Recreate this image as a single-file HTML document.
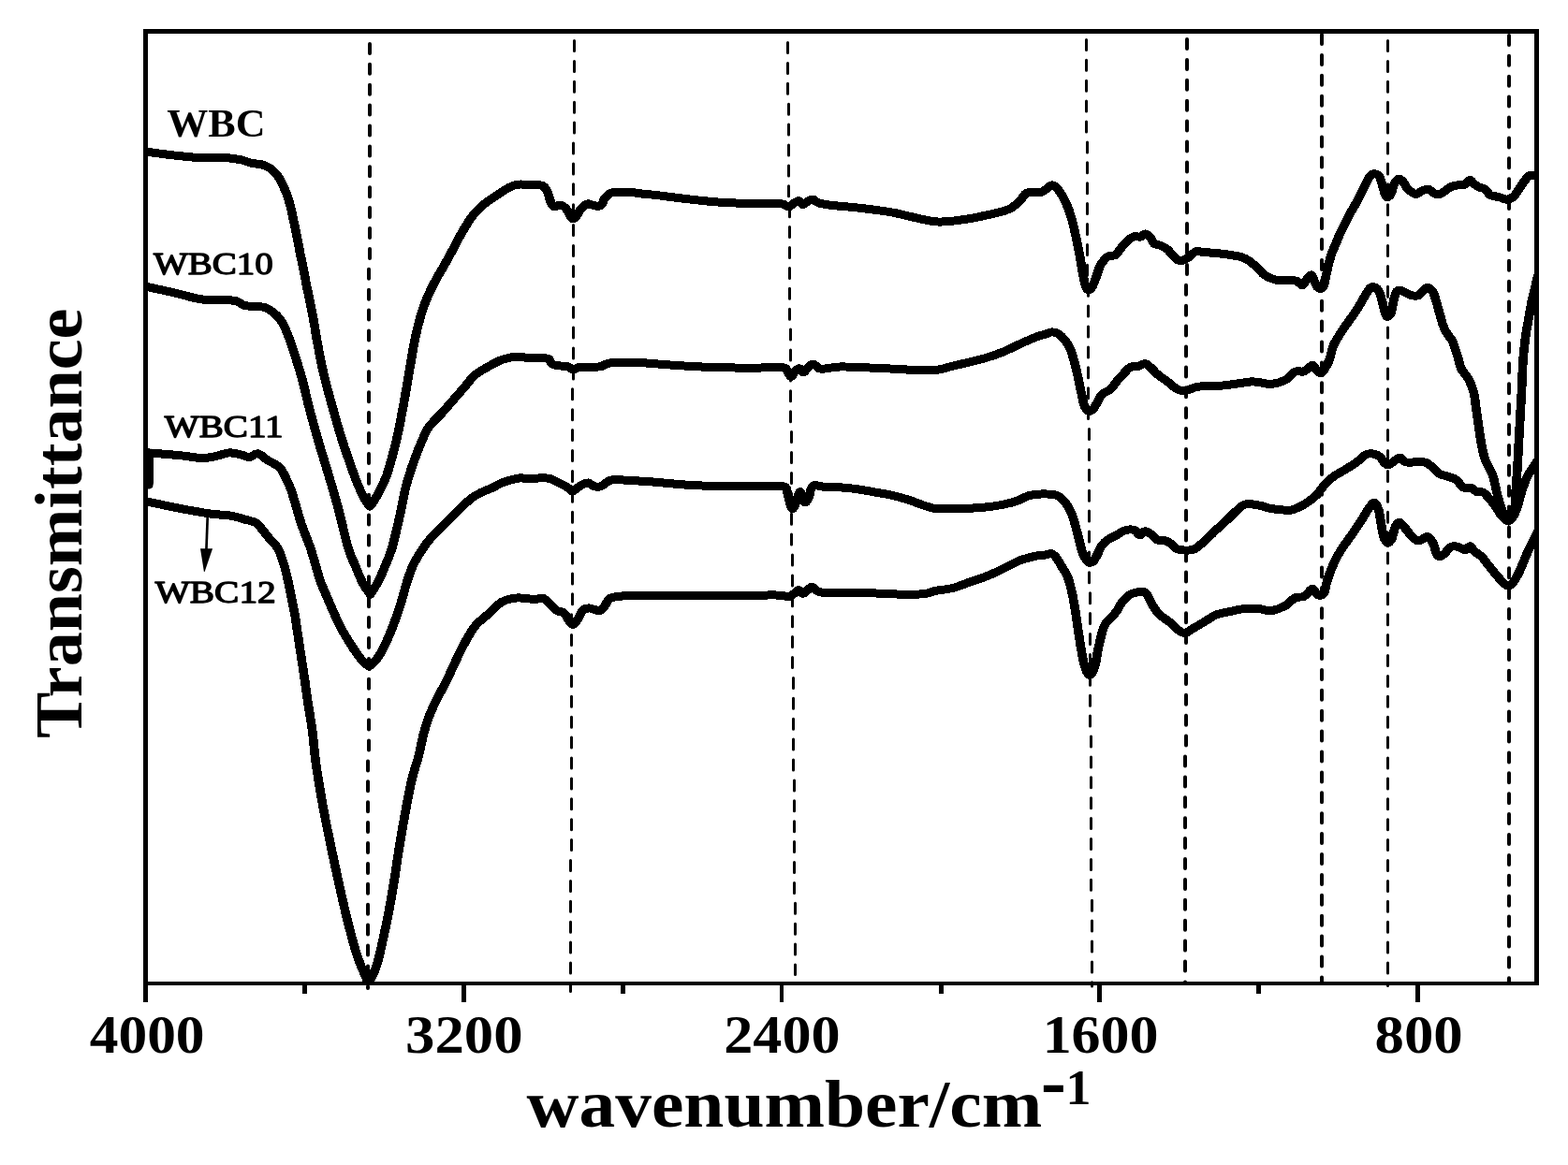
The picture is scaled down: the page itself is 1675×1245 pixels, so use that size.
<!DOCTYPE html>
<html lang="en">
<head>
<meta charset="utf-8">
<title>FTIR spectra of WBC samples</title>
<style>
html,body{margin:0;padding:0;background:#fff;}
body{width:1675px;height:1245px;overflow:hidden;}
svg{display:block;}
text{font-family:"Liberation Serif","DejaVu Serif",serif;fill:#000;}
</style>
</head>
<body>
<svg width="1675" height="1245" viewBox="0 0 1675 1245">
<rect x="0" y="0" width="1675" height="1245" fill="#fff"/>
<clipPath id="plot"><rect x="155" y="33" width="1487" height="1019"/></clipPath>
<g stroke="#000" fill="none" stroke-linecap="round">
<path stroke-width="4" d="M395.0 46.9V56.9M395.0 68.8V78.8M395.0 90.7V100.7M395.0 112.6V122.6M395.0 134.5V144.5M395.0 156.4V166.4M395.0 178.3V188.3M395.0 200.2V210.2M395.0 222.1V232.1M395.0 244.0V254.0M395.0 265.9V275.9M394.0 287.8V297.8M394.0 309.7V319.7M394.0 331.6V341.6M394.0 353.5V363.5M394.0 375.4V385.4M394.0 397.3V407.3M394.0 419.2V429.2M394.0 441.1V451.1M394.0 463.0V473.0M394.0 484.9V494.9M394.0 506.8V516.8M394.0 528.7V538.7M394.0 550.6V560.6M394.0 572.5V582.5M394.0 594.4V604.4M394.0 616.3V626.3M394.0 638.2V648.2M394.0 660.1V670.1M394.0 682.0V692.0M394.0 703.9V713.9M394.0 725.8V735.8M394.0 747.7V757.7M394.0 769.6V779.6M394.0 791.5V801.5M393.0 813.4V823.4M393.0 835.3V845.3M393.0 857.2V867.2M393.0 879.1V889.1M393.0 901.0V911.0M393.0 922.9V932.9M393.0 944.8V954.8M393.0 966.7V976.7M393.0 988.6V998.6M393.0 1010.5V1020.5M393.0 1032.4V1042.4M393.0 1054.3V1056.1"/>
<path stroke-width="3" d="M613.5 43.5V54.5M613.5 65.4V76.4M613.5 87.3V98.3M613.5 109.2V120.2M613.5 131.1V142.1M612.5 153.0V164.0M612.5 174.9V185.9M612.5 196.8V207.8M612.5 218.7V229.7M612.5 240.6V251.6M612.5 262.5V273.5M612.5 284.4V295.4M612.5 306.3V317.3M612.5 328.2V339.2M612.5 350.1V361.1M612.5 372.0V383.0M612.5 393.9V404.9M611.5 415.8V426.8M611.5 437.7V448.7M611.5 459.6V470.6M611.5 481.5V492.5M611.5 503.4V514.4M611.5 525.3V536.3M611.5 547.2V558.2M611.5 569.1V580.1M611.5 591.0V602.0M611.5 612.9V623.9M611.5 634.8V645.8M610.5 656.7V667.7M610.5 678.6V689.6M610.5 700.5V711.5M610.5 722.4V733.4M610.5 744.3V755.3M610.5 766.2V777.2M610.5 788.1V799.1M610.5 810.0V821.0M610.5 831.9V842.9M610.5 853.8V864.8M610.5 875.7V886.7M610.5 897.6V908.6M609.5 919.5V930.5M609.5 941.4V952.4M609.5 963.3V974.3M609.5 985.2V996.2M609.5 1007.1V1018.1M609.5 1029.0V1040.0M609.5 1050.9V1059.6"/>
<path stroke-width="3" d="M841.5 45.5V56.5M841.5 67.4V78.4M841.5 89.3V100.3M842.5 111.2V122.2M842.5 133.1V144.1M842.5 155.0V166.0M842.5 176.9V187.9M842.5 198.8V209.8M843.5 220.7V231.7M843.5 242.6V253.6M843.5 264.5V275.5M843.5 286.4V297.4M843.5 308.3V319.3M843.5 330.2V341.2M844.5 352.1V363.1M844.5 374.0V385.0M844.5 395.9V406.9M844.5 417.8V428.8M844.5 439.7V450.7M845.5 461.6V472.6M845.5 483.5V494.5M845.5 505.4V516.4M845.5 527.3V538.3M845.5 549.2V560.2M845.5 571.1V582.1M846.5 593.0V604.0M846.5 614.9V625.9M846.5 636.8V647.8M846.5 658.7V669.7M846.5 680.6V691.6M846.5 702.5V713.5M847.5 724.4V735.4M847.5 746.3V757.3M847.5 768.2V779.2M847.5 790.1V801.1M847.5 812.0V823.0M848.5 833.9V844.9M848.5 855.8V866.8M848.5 877.7V888.7M848.5 899.6V910.6M848.5 921.5V932.5M848.5 943.4V954.4M849.5 965.3V976.3M849.5 987.2V998.2M849.5 1009.1V1020.1M849.5 1031.0V1041.6"/>
<path stroke-width="3" d="M1160.5 42.4V53.4M1160.5 64.3V75.3M1160.5 86.2V97.2M1160.5 108.1V119.1M1160.5 130.0V141.0M1161.5 151.9V162.9M1161.5 173.8V184.8M1161.5 195.7V206.7M1161.5 217.6V228.6M1161.5 239.5V250.5M1161.5 261.4V272.4M1161.5 283.3V294.3M1162.5 305.2V316.2M1162.5 327.1V338.1M1162.5 349.0V360.0M1162.5 370.9V381.9M1162.5 392.8V403.8M1162.5 414.7V425.7M1162.5 436.6V447.6M1163.5 458.5V469.5M1163.5 480.4V491.4M1163.5 502.3V513.3M1163.5 524.2V535.2M1163.5 546.1V557.1M1163.5 568.0V579.0M1163.5 589.9V600.9M1163.5 611.8V622.8M1164.5 633.7V644.7M1164.5 655.6V666.6M1164.5 677.5V688.5M1164.5 699.4V710.4M1164.5 721.3V732.3M1164.5 743.2V754.2M1164.5 765.1V776.1M1165.5 787.0V798.0M1165.5 808.9V819.9M1165.5 830.8V841.8M1165.5 852.7V863.7M1165.5 874.6V885.6M1165.5 896.5V907.5M1165.5 918.4V929.4M1165.5 940.3V951.3M1166.5 962.2V973.2M1166.5 984.1V995.1M1166.5 1006.0V1017.0M1166.5 1027.9V1038.9M1166.5 1049.8V1054.1"/>
<path stroke-width="4" d="M1268.0 42.0V52.0M1268.0 63.9V73.9M1268.0 85.8V95.8M1268.0 107.7V117.7M1268.0 129.6V139.6M1268.0 151.5V161.5M1268.0 173.4V183.4M1268.0 195.3V205.3M1268.0 217.2V227.2M1268.0 239.1V249.1M1268.0 261.0V271.0M1268.0 282.9V292.9M1267.0 304.8V314.8M1267.0 326.7V336.7M1267.0 348.6V358.6M1267.0 370.5V380.5M1267.0 392.4V402.4M1267.0 414.3V424.3M1267.0 436.2V446.2M1267.0 458.1V468.1M1267.0 480.0V490.0M1267.0 501.9V511.9M1267.0 523.8V533.8M1267.0 545.7V555.7M1267.0 567.6V577.6M1267.0 589.5V599.5M1267.0 611.4V621.4M1267.0 633.3V643.3M1267.0 655.2V665.2M1267.0 677.1V687.1M1267.0 699.0V709.0M1267.0 720.9V730.9M1267.0 742.8V752.8M1267.0 764.7V774.7M1267.0 786.6V796.6M1266.0 808.5V818.5M1266.0 830.4V840.4M1266.0 852.3V862.3M1266.0 874.2V884.2M1266.0 896.1V906.1M1266.0 918.0V928.0M1266.0 939.9V949.9M1266.0 961.8V971.8M1266.0 983.7V993.7M1266.0 1005.6V1015.6M1266.0 1027.5V1037.5M1266.0 1049.4V1050.0"/>
<path stroke-width="4" d="M1412.0 37.0V47.0M1412.0 58.9V68.9M1412.0 80.8V90.8M1412.0 102.7V112.7M1412.0 124.6V134.6M1412.0 146.5V156.5M1412.0 168.4V178.4M1412.0 190.3V200.3M1412.0 212.2V222.2M1412.0 234.1V244.1M1412.0 256.0V266.0M1412.0 277.9V287.9M1412.0 299.8V309.8M1412.0 321.7V331.7M1412.0 343.6V353.6M1412.0 365.5V375.5M1412.0 387.4V397.4M1412.0 409.3V419.3M1412.0 431.2V441.2M1412.0 453.1V463.1M1412.0 475.0V485.0M1412.0 496.9V506.9M1412.0 518.8V528.8M1412.0 540.7V550.7M1412.0 562.6V572.6M1412.0 584.5V594.5M1412.0 606.4V616.4M1412.0 628.3V638.3M1412.0 650.2V660.2M1412.0 672.1V682.1M1412.0 694.0V704.0M1412.0 715.9V725.9M1412.0 737.8V747.8M1412.0 759.7V769.7M1412.0 781.6V791.6M1412.0 803.5V813.5M1412.0 825.4V835.4M1412.0 847.3V857.3M1412.0 869.2V879.2M1412.0 891.1V901.1M1412.0 913.0V923.0M1412.0 934.9V944.9M1412.0 956.8V966.8M1412.0 978.7V988.7M1412.0 1000.6V1010.6M1412.0 1022.5V1032.5M1412.0 1044.4V1050.0"/>
<path stroke-width="3" d="M1482.5 43.5V54.5M1482.5 65.4V76.4M1482.5 87.3V98.3M1482.5 109.2V120.2M1482.5 131.1V142.1M1482.5 153.0V164.0M1482.5 174.9V185.9M1482.5 196.8V207.8M1482.5 218.7V229.7M1482.5 240.6V251.6M1482.5 262.5V273.5M1482.5 284.4V295.4M1482.5 306.3V317.3M1482.5 328.2V339.2M1482.5 350.1V361.1M1482.5 372.0V383.0M1482.5 393.9V404.9M1482.5 415.8V426.8M1482.5 437.7V448.7M1482.5 459.6V470.6M1482.5 481.5V492.5M1482.5 503.4V514.4M1482.5 525.3V536.3M1482.5 547.2V558.2M1482.5 569.1V580.1M1482.5 591.0V602.0M1482.5 612.9V623.9M1482.5 634.8V645.8M1482.5 656.7V667.7M1482.5 678.6V689.6M1482.5 700.5V711.5M1482.5 722.4V733.4M1482.5 744.3V755.3M1482.5 766.2V777.2M1482.5 788.1V799.1M1482.5 810.0V821.0M1482.5 831.9V842.9M1482.5 853.8V864.8M1482.5 875.7V886.7M1482.5 897.6V908.6M1482.5 919.5V930.5M1482.5 941.4V952.4M1482.5 963.3V974.3M1482.5 985.2V996.2M1482.5 1007.1V1018.1M1482.5 1029.0V1040.0M1482.5 1050.9V1053.5"/>
<path stroke-width="4" d="M1612.0 37.9V47.9M1612.0 59.8V69.8M1612.0 81.7V91.7M1612.0 103.6V113.6M1612.0 125.5V135.5M1612.0 147.4V157.4M1612.0 169.3V179.3M1612.0 191.2V201.2M1612.0 213.1V223.1M1612.0 235.0V245.0M1612.0 256.9V266.9M1612.0 278.8V288.8M1612.0 300.7V310.7M1612.0 322.6V332.6M1612.0 344.5V354.5M1612.0 366.4V376.4M1612.0 388.3V398.3M1612.0 410.2V420.2M1612.0 432.1V442.1M1612.0 454.0V464.0M1612.0 475.9V485.9M1612.0 497.8V507.8M1612.0 519.7V529.7M1612.0 541.6V551.6M1612.0 563.5V573.5M1612.0 585.4V595.4M1612.0 607.3V617.3M1612.0 629.2V639.2M1612.0 651.1V661.1M1612.0 673.0V683.0M1612.0 694.9V704.9M1612.0 716.8V726.8M1612.0 738.7V748.7M1612.0 760.6V770.6M1612.0 782.5V792.5M1612.0 804.4V814.4M1612.0 826.3V836.3M1612.0 848.2V858.2M1612.0 870.1V880.1M1612.0 892.0V902.0M1612.0 913.9V923.9M1612.0 935.8V945.8M1612.0 957.7V967.7M1612.0 979.6V989.6M1612.0 1001.5V1011.5M1612.0 1023.4V1033.4M1612.0 1045.3V1050.0"/>
</g>
<g clip-path="url(#plot)"><g transform="scale(1.07 1)" stroke="#000" fill="none" stroke-linejoin="round" stroke-linecap="butt" shape-rendering="crispEdges">
<path stroke-width="9.0" d="M143.9 161.9C144.6 162.0 142.8 161.7 147.7 162.4C152.7 163.1 164.6 164.9 173.7 166.0C182.7 167.0 193.8 168.4 202.1 168.8C210.5 169.3 217.5 168.1 223.9 168.5C230.3 168.8 236.2 169.9 240.6 170.8C245.1 171.8 246.8 173.2 250.7 174.2C254.6 175.2 260.1 175.1 264.1 176.7C268.0 178.3 271.4 181.0 274.1 183.9C276.8 186.7 278.5 190.0 280.5 193.7C282.4 197.5 284.2 201.8 285.8 206.3C287.4 210.7 288.7 215.5 290.0 220.6C291.3 225.7 292.2 231.0 293.3 236.7C294.5 242.4 295.6 248.7 296.7 254.6C297.8 260.6 298.9 266.6 300.0 272.5C301.2 278.5 302.3 284.5 303.4 290.4C304.5 296.4 305.6 302.4 306.7 308.4C307.9 314.3 309.0 320.3 310.1 326.3C311.2 332.2 312.4 338.1 313.4 344.2C314.5 350.3 314.7 353.9 316.3 363.0C317.9 372.1 320.4 386.9 323.0 398.8C325.6 410.8 328.7 422.7 331.8 434.6C334.9 446.6 338.0 458.5 341.6 470.5C345.1 482.4 350.1 497.3 353.1 506.3C356.1 515.2 357.8 519.4 359.8 524.2C361.8 529.0 363.4 532.1 365.0 534.9C366.6 537.8 368.5 540.3 369.2 541.2C369.8 540.3 371.9 537.8 373.5 534.9C375.2 532.1 377.0 529.0 379.2 524.2C381.4 519.4 383.8 515.2 386.6 506.3C389.3 497.3 393.1 482.4 395.8 470.5C398.4 458.5 400.4 446.6 402.5 434.6C404.6 422.7 406.4 410.8 408.3 398.8C410.3 386.9 412.2 373.3 414.2 363.0C416.2 352.7 418.2 344.3 420.2 337.0C422.2 329.7 423.7 325.1 426.1 319.1C428.4 313.1 431.2 307.2 434.1 301.2C437.0 295.2 440.5 289.3 443.6 283.3C446.8 277.3 449.8 271.3 452.8 265.4C455.9 259.4 458.4 253.4 461.7 247.5C465.0 241.5 469.1 234.3 472.6 229.6C476.1 224.8 479.0 222.1 482.6 218.8C486.3 215.5 490.7 212.5 494.4 209.9C498.0 207.2 501.3 204.6 504.4 202.7C507.5 200.7 510.3 199.2 512.8 198.2C515.3 197.3 516.7 197.0 519.5 197.0C522.2 196.9 525.9 197.5 529.5 197.7C533.1 197.9 538.4 197.1 541.2 198.2C544.0 199.3 544.8 201.6 546.2 204.5C547.6 207.3 548.5 212.5 549.6 215.2C550.7 217.9 551.3 219.9 552.9 220.6C554.6 221.3 557.7 218.9 559.6 219.2C561.6 219.5 563.1 220.7 564.7 222.4C566.2 224.1 567.6 227.6 568.8 229.6C570.1 231.5 570.9 234.0 572.2 234.0C573.4 234.0 575.0 231.5 576.4 229.6C577.8 227.6 578.7 224.3 580.6 222.4C582.4 220.4 585.2 218.4 587.3 217.9C589.3 217.5 591.0 219.4 593.1 219.7C595.2 220.0 598.0 221.0 599.8 219.7C601.6 218.4 602.3 213.9 604.0 211.6C605.7 209.4 607.5 207.3 609.8 206.3C612.2 205.2 614.3 205.4 618.2 205.4C622.1 205.3 628.8 205.5 633.3 205.9C637.7 206.3 641.5 207.3 645.0 207.7C648.5 208.1 647.1 207.5 654.2 208.4C661.3 209.3 676.5 211.6 687.7 212.9C698.8 214.3 710.0 215.6 721.2 216.3C732.3 217.1 744.9 217.4 754.6 217.6C764.4 217.8 774.3 217.2 779.7 217.8C785.2 218.3 785.0 221.0 787.3 220.8C789.5 220.7 791.5 217.9 793.1 216.9C794.8 215.8 795.9 214.3 797.3 214.6C798.7 214.9 800.0 218.6 801.5 218.7C803.0 218.8 804.9 216.0 806.5 215.1C808.2 214.2 809.7 212.8 811.5 213.1C813.4 213.4 814.3 215.8 817.4 216.9C820.5 217.9 823.7 218.6 830.0 219.4C836.2 220.2 845.3 220.7 855.1 221.9C864.8 223.1 878.8 224.8 888.5 226.6C898.3 228.3 906.0 230.9 913.7 232.6C921.3 234.4 928.3 236.4 934.6 236.9C940.9 237.5 945.7 236.7 951.3 236.1C956.9 235.6 962.5 234.6 968.1 233.6C973.6 232.6 979.2 231.3 984.8 230.0C990.4 228.7 997.3 227.0 1001.5 225.7C1005.7 224.4 1007.1 224.0 1009.9 222.1C1012.7 220.3 1015.8 217.3 1018.3 214.6C1020.8 212.0 1022.2 207.7 1025.0 206.2C1027.8 204.7 1032.2 206.1 1035.0 205.9C1037.8 205.6 1039.5 205.6 1041.7 204.4C1043.9 203.2 1046.4 199.4 1048.4 198.5C1050.4 197.6 1051.5 197.4 1053.4 199.0C1055.4 200.7 1058.2 205.0 1060.1 208.4C1062.1 211.7 1063.6 215.2 1065.1 219.1C1066.7 223.0 1068.1 227.2 1069.3 231.6C1070.6 236.1 1071.6 240.9 1072.7 246.0C1073.8 251.0 1075.0 257.0 1076.0 262.1C1077.0 267.2 1077.7 271.3 1078.5 276.4C1079.4 281.5 1080.2 287.8 1081.0 292.5C1081.9 297.3 1082.7 302.2 1083.6 305.1C1084.4 307.9 1084.9 309.3 1086.1 309.6C1087.2 309.9 1088.9 309.1 1090.2 306.9C1091.6 304.6 1093.2 299.7 1094.4 296.1C1095.7 292.5 1096.5 288.4 1097.8 285.4C1099.0 282.4 1100.4 280.1 1102.0 278.2C1103.5 276.3 1105.0 274.7 1107.0 273.7C1108.9 272.8 1111.7 273.8 1113.7 272.5C1115.6 271.1 1116.8 268.1 1118.7 265.7C1120.7 263.2 1123.2 259.8 1125.4 257.6C1127.6 255.5 1129.9 253.5 1132.1 252.8C1134.3 252.0 1137.0 253.6 1138.8 253.1C1140.6 252.7 1141.4 249.9 1143.0 249.9C1144.5 249.9 1146.5 251.4 1148.0 253.1C1149.5 254.9 1150.4 258.7 1152.2 260.3C1154.0 261.9 1156.6 261.4 1158.9 262.4C1161.1 263.5 1163.6 264.8 1165.6 266.6C1167.5 268.3 1168.9 271.0 1170.6 272.8C1172.3 274.7 1173.9 277.0 1175.6 277.9C1177.3 278.7 1178.7 278.7 1180.6 278.2C1182.6 277.7 1185.1 276.2 1187.3 274.6C1189.6 273.0 1191.5 269.6 1194.0 268.7C1196.5 267.9 1198.8 269.3 1202.4 269.6C1206.0 269.9 1211.5 270.2 1215.7 270.7C1219.8 271.1 1223.5 271.6 1227.4 272.3C1231.3 273.0 1235.7 273.5 1239.1 274.6C1242.4 275.8 1244.7 277.1 1247.5 279.1C1250.2 281.1 1253.3 284.3 1255.8 286.8C1258.3 289.3 1259.7 292.0 1262.5 294.0C1265.3 296.0 1268.9 297.8 1272.6 298.8C1276.2 299.8 1280.7 299.6 1284.3 299.9C1287.9 300.1 1291.7 299.4 1294.3 300.2C1297.0 301.0 1298.4 305.1 1300.2 304.7C1302.0 304.3 1303.7 299.7 1305.2 297.9C1306.7 296.1 1308.1 293.4 1309.4 294.0C1310.6 294.6 1311.6 299.2 1312.7 301.5C1313.9 303.8 1314.7 306.9 1316.1 307.8C1317.5 308.7 1319.8 308.8 1321.1 306.9C1322.4 304.9 1322.8 300.0 1323.6 296.1C1324.5 292.2 1325.1 287.8 1326.1 283.6C1327.1 279.4 1328.2 274.9 1329.5 271.0C1330.7 267.2 1332.3 263.9 1333.7 260.3C1335.1 256.7 1336.3 253.1 1337.8 249.6C1339.4 246.0 1341.2 242.4 1342.9 238.8C1344.5 235.2 1346.1 231.6 1347.9 228.1C1349.7 224.5 1351.9 220.9 1353.7 217.3C1355.6 213.7 1357.1 210.1 1358.8 206.6C1360.4 203.0 1362.1 199.1 1363.8 195.8C1365.5 192.5 1367.3 188.5 1368.8 186.9C1370.3 185.2 1371.6 185.7 1373.0 186.0C1374.4 186.3 1375.9 186.4 1377.2 188.7C1378.4 190.9 1379.6 196.1 1380.5 199.4C1381.5 202.7 1382.2 206.5 1383.0 208.4C1383.9 210.2 1384.6 210.8 1385.5 210.5C1386.5 210.2 1387.8 209.0 1388.9 206.6C1390.0 204.1 1391.0 198.4 1392.2 195.8C1393.5 193.3 1395.0 191.6 1396.4 191.3C1397.8 191.0 1399.2 192.4 1400.6 194.0C1402.0 195.7 1403.3 199.3 1404.8 201.2C1406.3 203.1 1408.3 204.6 1409.8 205.7C1411.4 206.7 1412.3 207.8 1414.0 207.5C1415.7 207.2 1417.9 204.8 1419.9 203.9C1421.8 203.0 1423.9 201.8 1425.7 202.1C1427.5 202.4 1429.1 204.7 1430.7 205.7C1432.4 206.7 1434.0 208.1 1435.8 208.0C1437.6 207.9 1439.5 206.1 1441.6 204.8C1443.7 203.4 1446.1 200.9 1448.3 199.8C1450.6 198.6 1452.8 198.3 1455.0 198.0C1457.2 197.6 1459.6 198.5 1461.7 197.6C1463.8 196.7 1465.9 192.7 1467.6 192.6C1469.2 192.4 1470.2 195.4 1471.8 196.7C1473.3 198.0 1475.0 199.4 1476.8 200.3C1478.6 201.2 1480.8 200.7 1482.6 202.1C1484.4 203.4 1485.9 207.1 1487.6 208.4C1489.3 209.6 1490.9 209.3 1492.6 209.8C1494.3 210.2 1495.7 210.5 1497.6 211.0C1499.6 211.6 1502.1 213.3 1504.3 213.2C1506.6 213.0 1509.1 211.9 1511.0 210.1C1513.0 208.4 1514.4 205.5 1516.0 203.0C1517.7 200.4 1519.4 197.4 1521.1 194.9C1522.7 192.4 1524.1 189.5 1526.1 188.1C1528.0 186.8 1531.2 187.2 1532.8 186.9C1534.4 186.6 1535.1 186.4 1535.5 186.4"/>
<path stroke-width="9.0" d="M143.9 305.9C144.6 306.0 142.8 305.6 147.7 306.7C152.7 307.9 165.2 310.7 173.7 312.8C182.2 315.0 191.8 318.1 198.8 319.5C205.7 320.8 209.7 320.6 215.5 320.9C221.4 321.2 229.2 320.4 233.9 321.3C238.7 322.1 240.6 325.2 244.0 326.3C247.3 327.3 250.7 327.3 254.0 327.7C257.4 328.1 261.0 327.5 264.1 328.4C267.1 329.4 269.9 331.4 272.4 333.4C274.9 335.5 277.2 337.9 279.1 340.6C281.1 343.3 282.5 345.8 284.1 349.6C285.8 353.3 286.5 354.8 289.2 363.0C291.8 371.2 296.8 386.9 300.0 398.8C303.3 410.8 305.5 422.7 308.4 434.6C311.3 446.6 314.4 458.5 317.6 470.5C320.8 482.4 324.4 494.3 327.7 506.3C331.0 518.2 334.0 528.8 337.4 542.1C340.7 555.4 344.9 575.7 347.7 586.0C350.6 596.3 352.2 597.9 354.4 603.9C356.7 609.9 359.5 617.5 361.5 621.8C363.4 626.1 364.8 627.6 366.2 629.9C367.5 632.1 369.0 634.4 369.5 635.3C370.0 634.4 371.5 632.1 372.9 629.9C374.2 627.6 375.5 626.1 377.5 621.8C379.6 617.5 382.6 609.9 384.9 603.9C387.2 597.9 389.2 593.3 391.3 586.0C393.3 578.7 395.7 567.3 397.3 560.0C398.9 552.7 399.8 548.1 400.9 542.1C402.1 536.1 403.0 530.2 404.3 524.2C405.6 518.2 407.2 512.3 409.0 506.3C410.7 500.3 412.7 494.3 414.8 488.4C416.9 482.4 419.3 475.8 421.5 470.5C423.8 465.1 425.0 460.9 428.2 456.1C431.4 451.4 436.7 446.6 440.8 441.8C444.8 437.0 448.6 432.3 452.5 427.5C456.4 422.7 460.6 417.6 464.2 413.1C467.8 408.7 470.4 404.2 474.3 400.6C478.2 397.0 483.2 394.3 487.7 391.7C492.1 389.0 496.3 386.3 501.0 384.5C505.8 382.7 511.6 381.4 516.1 381.1C520.6 380.8 523.6 382.4 527.8 382.7C532.0 383.0 537.9 382.6 541.2 382.7C544.6 382.9 546.2 382.6 547.9 383.6C549.6 384.6 549.6 387.8 551.3 389.0C552.9 390.2 555.4 390.3 558.0 390.8C560.5 391.2 564.0 391.0 566.3 391.7C568.7 392.3 570.2 394.7 572.2 394.9C574.1 395.0 574.8 393.0 578.0 392.6C581.3 392.1 587.8 392.3 591.4 392.2C595.1 392.0 597.0 392.3 599.8 391.7C602.6 391.0 604.0 388.8 608.2 388.1C612.4 387.3 619.3 387.2 624.9 387.2C630.5 387.1 636.8 387.4 641.7 387.7C646.5 388.0 646.5 388.2 654.2 388.8C661.9 389.4 676.5 390.7 687.7 391.3C698.8 392.0 710.0 392.5 721.2 392.8C732.3 393.1 744.6 393.1 754.6 393.1C764.7 393.1 776.1 392.1 781.4 392.8C786.7 393.4 785.0 395.6 786.4 397.2C787.8 398.9 788.5 402.8 789.8 402.6C791.0 402.5 792.6 397.8 794.0 396.3C795.4 394.9 796.8 393.4 798.2 393.7C799.6 393.9 800.8 398.1 802.3 397.8C803.9 397.5 805.7 393.3 807.4 391.9C809.0 390.4 810.7 388.9 812.4 389.2C814.1 389.5 815.6 392.9 817.4 393.7C819.2 394.5 819.8 394.3 823.3 394.0C826.8 393.7 831.6 392.3 838.3 392.0C845.0 391.8 855.1 392.4 863.4 392.8C871.8 393.1 880.2 393.6 888.5 394.0C896.9 394.5 906.0 395.2 913.7 395.4C921.3 395.7 928.3 396.2 934.6 395.4C940.9 394.7 945.7 392.5 951.3 391.1C956.9 389.7 962.5 388.4 968.1 387.0C973.6 385.5 979.2 384.1 984.8 382.3C990.4 380.5 996.0 378.5 1001.5 376.0C1007.1 373.6 1012.7 370.3 1018.3 367.6C1023.9 364.9 1030.8 361.6 1035.0 359.9C1039.2 358.2 1040.9 358.1 1043.4 357.2C1045.9 356.4 1047.8 355.0 1050.1 354.9C1052.3 354.8 1054.5 355.3 1056.8 356.9C1059.0 358.4 1061.5 361.3 1063.5 364.0C1065.4 366.7 1067.1 369.7 1068.5 373.0C1069.9 376.3 1070.7 379.6 1071.8 383.7C1073.0 387.9 1074.2 393.6 1075.2 398.1C1076.2 402.5 1076.9 406.4 1077.7 410.6C1078.5 414.8 1079.4 419.3 1080.2 423.1C1081.0 427.0 1081.6 431.2 1082.7 433.9C1083.8 436.6 1085.5 438.7 1086.9 439.3C1088.3 439.9 1089.7 439.0 1091.1 437.5C1092.5 436.0 1093.7 433.0 1095.3 430.3C1096.8 427.6 1098.1 423.7 1100.3 421.3C1102.5 419.0 1106.2 418.4 1108.7 416.0C1111.2 413.6 1113.1 409.9 1115.4 407.0C1117.6 404.2 1119.8 401.4 1122.1 399.0C1124.3 396.5 1126.5 393.5 1128.7 392.3C1131.0 391.1 1133.1 392.4 1135.4 391.8C1137.8 391.2 1140.7 388.4 1143.0 388.6C1145.2 388.7 1146.7 390.8 1148.8 392.7C1150.9 394.6 1152.7 397.3 1155.5 399.9C1158.3 402.4 1162.5 405.4 1165.6 407.9C1168.6 410.4 1171.7 413.5 1173.9 415.1C1176.2 416.6 1177.0 416.9 1179.0 417.2C1180.9 417.5 1183.4 417.4 1185.7 416.9C1187.9 416.4 1190.1 414.8 1192.4 414.2C1194.6 413.5 1195.3 413.2 1199.1 412.9C1202.8 412.7 1209.1 413.0 1215.0 412.6C1220.8 412.1 1228.5 411.0 1234.2 410.2C1239.9 409.4 1245.1 408.1 1249.3 407.9C1253.5 407.7 1256.2 408.5 1259.3 409.0C1262.4 409.4 1264.9 410.6 1267.7 410.6C1270.5 410.6 1273.3 409.8 1276.0 409.0C1278.8 408.1 1281.6 407.3 1284.4 405.4C1287.2 403.4 1290.0 398.7 1292.8 397.3C1295.6 395.9 1298.9 397.6 1301.2 397.0C1303.4 396.4 1304.6 394.9 1306.2 393.7C1307.7 392.6 1309.0 389.9 1310.4 390.2C1311.8 390.5 1313.2 394.1 1314.5 395.5C1315.9 397.0 1317.3 399.1 1318.7 398.8C1320.1 398.5 1321.5 396.1 1322.9 393.7C1324.3 391.4 1325.7 388.8 1327.1 384.8C1328.5 380.8 1329.4 374.2 1331.1 369.6C1332.9 364.9 1335.6 360.9 1337.8 357.0C1340.1 353.1 1342.3 349.7 1344.5 346.3C1346.8 342.8 1349.1 339.7 1351.2 336.4C1353.3 333.1 1355.1 330.0 1357.1 326.6C1359.0 323.1 1361.1 319.0 1363.0 315.8C1364.8 312.7 1366.3 309.2 1368.0 307.8C1369.6 306.3 1371.5 306.5 1373.0 307.2C1374.5 308.0 1375.9 309.3 1377.2 312.2C1378.4 315.2 1379.6 320.9 1380.5 324.8C1381.5 328.7 1382.2 333.3 1383.0 335.5C1383.9 337.8 1384.6 338.5 1385.5 338.2C1386.5 337.9 1387.9 336.6 1388.9 333.7C1389.9 330.9 1390.6 324.8 1391.4 321.2C1392.2 317.6 1392.8 314.1 1393.9 312.2C1395.0 310.4 1396.4 309.9 1398.1 310.1C1399.8 310.2 1402.0 312.2 1404.0 313.1C1405.9 314.1 1407.7 315.4 1409.8 315.8C1411.9 316.2 1414.6 316.5 1416.5 315.5C1418.5 314.4 1420.0 310.9 1421.5 309.6C1423.1 308.2 1424.2 306.8 1425.7 307.2C1427.3 307.7 1429.3 309.6 1430.7 312.2C1432.1 314.9 1433.0 319.1 1434.1 323.0C1435.2 326.9 1436.3 331.3 1437.4 335.5C1438.6 339.7 1439.5 344.5 1440.8 348.1C1442.0 351.6 1443.4 354.3 1445.0 357.0C1446.5 359.7 1448.6 361.2 1450.0 364.2C1451.4 367.2 1452.4 371.8 1453.3 374.9C1454.3 378.1 1455.0 379.8 1455.9 383.0C1456.7 386.1 1457.0 390.2 1458.6 393.7C1460.3 397.3 1463.7 400.3 1465.8 404.5C1467.9 408.7 1469.9 413.4 1471.2 418.8C1472.5 424.2 1472.9 430.8 1473.7 436.7C1474.5 442.7 1475.4 448.7 1476.2 454.6C1477.0 460.6 1477.7 466.6 1478.7 472.6C1479.8 478.5 1480.6 484.5 1482.6 490.5C1484.5 496.4 1488.5 502.4 1490.4 508.4C1492.4 514.3 1492.8 520.3 1494.3 526.3C1495.8 532.3 1497.4 539.1 1499.3 544.2C1501.2 549.3 1503.6 557.1 1505.7 557.1C1507.8 557.1 1510.6 549.3 1511.9 544.2C1513.1 539.1 1512.8 532.3 1513.2 526.3C1513.6 520.3 1514.0 514.3 1514.4 508.4C1514.7 502.4 1514.9 499.4 1515.4 490.5C1515.8 481.5 1516.6 466.6 1517.2 454.6C1517.8 442.7 1518.5 430.8 1519.1 418.8C1519.6 406.9 1520.0 393.3 1520.7 383.0C1521.5 372.7 1522.5 364.3 1523.4 357.0C1524.4 349.7 1525.4 345.1 1526.4 339.1C1527.4 333.1 1528.4 326.7 1529.4 321.2C1530.5 315.7 1531.8 310.6 1532.8 306.0C1533.8 301.4 1535.1 295.6 1535.5 293.5"/>
<path stroke-width="9.0" d="M143.9 483.6C144.6 483.6 141.6 483.4 147.7 483.9C153.8 484.4 171.3 485.8 180.4 486.8C189.4 487.7 196.3 489.5 202.1 489.6C208.0 489.7 211.0 488.4 215.5 487.5C220.0 486.5 224.7 484.2 228.9 483.9C233.1 483.6 237.3 485.1 240.6 485.9C244.0 486.6 246.2 488.7 249.0 488.6C251.8 488.4 254.3 484.2 257.4 484.8C260.4 485.4 263.8 489.5 267.4 492.0C271.0 494.4 276.0 496.2 279.1 499.5C282.2 502.8 283.9 507.5 285.8 511.7C287.8 515.8 289.2 519.1 290.8 524.2C292.5 529.3 294.2 536.1 295.9 542.1C297.5 548.1 299.0 554.0 300.9 560.0C302.8 566.0 305.7 573.6 307.2 577.9C308.8 582.3 308.8 581.7 310.1 586.0C311.4 590.3 313.4 597.9 315.1 603.9C316.8 609.9 318.1 615.9 320.1 621.8C322.1 627.8 324.8 633.8 327.2 639.7C329.5 645.7 331.8 651.7 334.4 657.6C337.0 663.6 339.6 669.6 342.7 675.6C345.9 681.5 350.0 688.5 353.1 693.5C356.2 698.4 358.6 702.0 361.1 705.1C363.7 708.2 367.3 711.2 368.3 712.3C369.4 711.2 373.2 708.2 375.5 705.1C377.9 702.0 380.0 698.4 382.4 693.5C384.8 688.5 387.6 681.5 389.9 675.6C392.2 669.6 394.3 663.6 396.3 657.6C398.2 651.7 400.0 645.7 401.6 639.7C403.3 633.8 404.5 627.8 406.3 621.8C408.1 615.9 409.9 609.9 412.5 603.9C415.2 597.9 419.3 590.9 422.4 586.0C425.4 581.1 427.7 578.1 430.7 574.3C433.8 570.6 437.4 567.2 440.8 563.6C444.1 560.0 447.5 556.4 450.8 552.9C454.2 549.3 457.5 545.5 460.9 542.1C464.2 538.7 467.6 534.9 470.9 532.3C474.3 529.6 477.6 527.8 481.0 526.0C484.3 524.2 487.7 523.1 491.0 521.5C494.4 519.9 497.7 517.6 501.0 516.1C504.4 514.6 508.0 513.4 511.1 512.6C514.2 511.7 516.7 510.9 519.5 510.8C522.2 510.6 524.2 511.7 527.8 511.7C531.5 511.7 537.6 510.8 541.2 510.8C544.8 510.8 546.8 510.8 549.6 511.7C552.4 512.6 555.2 514.6 558.0 516.1C560.7 517.6 564.1 519.1 566.3 520.6C568.6 522.1 569.7 524.9 571.3 525.1C573.0 525.2 574.7 522.7 576.4 521.5C578.0 520.3 579.6 518.9 581.4 517.9C583.2 517.0 585.3 515.7 587.3 516.0C589.2 516.3 591.0 519.1 593.1 519.7C595.2 520.3 597.9 520.3 599.8 519.7C601.8 519.1 603.2 517.2 604.8 516.1C606.5 515.0 606.5 513.6 609.8 513.1C613.2 512.6 619.6 512.9 624.9 513.1C630.2 513.3 636.8 514.0 641.7 514.3C646.5 514.7 646.5 514.6 654.2 515.2C661.9 515.9 676.5 517.6 687.7 518.3C698.8 519.1 710.0 519.4 721.2 519.6C732.3 519.8 744.6 519.6 754.6 519.6C764.7 519.6 776.3 518.7 781.4 519.6C786.6 520.4 784.5 522.1 785.6 524.8C786.7 527.4 787.1 532.4 788.1 535.5C789.1 538.7 790.2 543.9 791.5 543.6C792.7 543.3 794.5 536.7 795.6 533.7C796.8 530.7 797.5 526.0 798.5 525.7C799.5 525.4 800.6 530.1 801.5 531.9C802.4 533.8 803.0 537.0 804.0 537.0C805.0 537.0 806.4 534.4 807.4 531.9C808.3 529.5 808.9 524.3 809.9 522.1C810.9 519.9 811.3 518.8 813.2 518.5C815.2 518.2 817.4 519.7 821.6 520.1C825.8 520.5 832.8 520.4 838.3 520.8C843.9 521.3 849.5 521.8 855.1 522.6C860.7 523.4 866.2 524.6 871.8 525.7C877.4 526.7 883.0 527.6 888.5 528.9C894.1 530.2 899.7 531.7 905.3 533.6C910.9 535.4 917.1 538.3 922.0 540.0C926.9 541.7 929.7 543.1 934.6 543.6C939.5 544.1 945.7 543.2 951.3 543.2C956.9 543.1 962.5 543.4 968.1 543.2C973.6 543.0 979.2 542.6 984.8 541.9C990.4 541.3 996.5 540.3 1001.5 539.2C1006.6 538.1 1010.7 537.0 1014.9 535.5C1019.1 533.9 1023.0 531.1 1026.6 529.9C1030.3 528.7 1032.5 528.4 1036.7 528.1C1040.9 527.9 1048.1 527.9 1051.8 528.5C1055.4 529.0 1056.2 529.5 1058.4 531.3C1060.7 533.2 1063.2 536.3 1065.1 539.4C1067.1 542.5 1068.6 546.0 1070.2 550.1C1071.7 554.3 1073.1 559.7 1074.3 564.5C1075.6 569.3 1076.6 574.3 1077.7 578.8C1078.8 583.3 1079.8 587.9 1081.0 591.3C1082.3 594.8 1084.1 597.8 1085.2 599.4C1086.3 601.0 1086.6 601.2 1087.7 601.2C1088.9 601.2 1090.5 601.0 1091.9 599.4C1093.3 597.8 1094.7 594.2 1096.1 591.3C1097.5 588.5 1098.5 584.9 1100.3 582.4C1102.1 579.9 1104.5 577.9 1107.0 576.1C1109.5 574.3 1112.8 573.1 1115.4 571.6C1117.9 570.1 1119.8 568.1 1122.1 567.2C1124.3 566.2 1126.8 565.9 1128.7 565.9C1130.7 565.9 1132.2 566.1 1133.8 567.2C1135.3 568.2 1136.4 571.9 1138.0 572.0C1139.5 572.1 1141.2 567.9 1143.0 567.7C1144.8 567.5 1146.7 569.2 1148.8 570.7C1150.9 572.3 1153.0 575.8 1155.5 577.0C1158.0 578.2 1161.4 577.0 1163.9 577.9C1166.4 578.8 1168.6 580.9 1170.6 582.4C1172.5 583.9 1173.4 585.9 1175.6 586.9C1177.8 587.8 1181.2 588.1 1184.0 588.1C1186.8 588.1 1189.8 588.0 1192.4 586.9C1194.9 585.8 1196.8 583.4 1199.1 581.5C1201.3 579.6 1203.8 577.2 1205.7 575.2C1207.7 573.3 1209.2 571.5 1210.8 569.9C1212.3 568.2 1212.4 567.9 1215.0 565.4C1217.5 562.9 1222.6 558.2 1225.8 554.9C1229.0 551.7 1231.4 548.6 1234.2 546.0C1237.0 543.4 1239.8 540.3 1242.6 539.2C1245.4 538.0 1248.2 538.8 1250.9 539.0C1253.7 539.2 1256.5 539.9 1259.3 540.6C1262.1 541.3 1264.9 542.7 1267.7 543.3C1270.5 543.9 1272.7 544.0 1276.0 544.4C1279.4 544.7 1284.1 545.7 1287.8 545.3C1291.4 544.8 1294.7 543.0 1297.8 541.5C1300.9 540.0 1303.4 538.2 1306.2 536.1C1309.0 534.0 1311.8 532.1 1314.5 529.0C1317.3 525.8 1320.1 520.6 1322.9 517.3C1325.7 514.0 1328.5 511.5 1331.3 509.3C1334.1 507.0 1336.9 505.7 1339.7 503.9C1342.4 502.1 1345.2 500.5 1348.0 498.5C1350.8 496.6 1353.9 494.3 1356.4 492.3C1358.9 490.2 1360.6 487.2 1363.1 486.0C1365.6 484.8 1368.9 484.6 1371.5 485.1C1374.0 485.5 1376.3 487.0 1378.2 488.7C1380.0 490.3 1380.9 493.6 1382.3 494.9C1383.7 496.3 1385.0 497.0 1386.5 496.7C1388.1 496.4 1389.7 494.4 1391.5 493.1C1393.4 491.9 1395.5 488.9 1397.4 489.0C1399.4 489.1 1401.2 492.9 1403.3 493.7C1405.4 494.5 1406.6 494.0 1410.0 494.0C1413.3 494.1 1420.0 493.3 1423.4 494.2C1426.7 495.1 1428.5 498.3 1430.0 499.4C1431.5 500.6 1431.1 500.0 1432.3 501.2C1433.6 502.4 1435.1 505.2 1437.4 506.6C1439.6 507.9 1442.9 508.2 1445.7 509.3C1448.5 510.3 1451.6 510.9 1454.1 512.9C1456.6 514.8 1458.4 519.5 1460.8 520.9C1463.2 522.3 1466.1 520.5 1468.3 521.3C1470.6 522.0 1472.1 524.6 1474.2 525.4C1476.3 526.2 1478.9 525.2 1480.9 526.3C1482.8 527.3 1484.0 529.3 1485.9 531.7C1487.9 534.0 1490.4 537.3 1492.6 540.6C1494.8 543.9 1497.1 548.7 1499.3 551.4C1501.5 554.0 1503.7 556.7 1505.7 556.7C1507.6 556.7 1509.4 554.0 1511.0 551.4C1512.6 548.7 1513.8 545.1 1515.2 540.6C1516.6 536.1 1517.7 529.9 1519.4 524.5C1521.1 519.1 1523.0 513.1 1525.2 508.4C1527.5 503.6 1531.1 498.7 1532.8 495.8C1534.5 493.0 1535.1 492.0 1535.5 491.3"/>
<path stroke-width="9.0" d="M143.9 535.3C144.6 535.5 142.8 535.1 147.7 536.2C152.7 537.3 163.8 540.0 173.7 542.1C183.6 544.2 197.7 547.0 207.1 548.6C216.6 550.1 224.4 550.2 230.6 551.2C236.7 552.3 239.8 553.7 244.0 555.0C248.2 556.3 252.3 556.6 255.7 558.9C259.0 561.3 261.5 565.8 264.1 569.0C266.6 572.1 268.5 575.1 270.7 577.9C273.0 580.8 275.3 581.7 277.4 586.0C279.6 590.3 281.9 597.9 283.6 603.9C285.4 609.9 286.6 615.9 287.8 621.8C289.1 627.8 290.1 633.8 291.2 639.7C292.3 645.7 293.5 651.7 294.5 657.6C295.5 663.6 296.2 669.6 297.0 675.6C297.9 681.5 298.7 687.5 299.5 693.5C300.4 699.4 301.2 705.4 302.1 711.4C302.9 717.3 303.8 723.3 304.6 729.3C305.4 735.3 306.1 741.2 306.9 747.2C307.7 753.2 308.7 759.1 309.6 765.1C310.4 771.1 311.3 775.7 312.1 783.0C312.9 790.3 313.7 800.8 314.6 809.0C315.5 817.1 316.2 822.2 317.7 832.0C319.2 841.8 321.4 855.9 323.5 867.8C325.6 879.8 327.9 891.7 330.2 903.6C332.5 915.6 335.0 927.5 337.4 939.5C339.9 951.4 342.3 963.3 345.0 975.3C347.7 987.2 351.3 1002.1 353.7 1011.1C356.0 1020.1 357.3 1023.6 359.2 1029.0C361.1 1034.4 363.6 1040.0 365.0 1043.3C366.4 1046.7 366.4 1049.1 367.6 1049.1C368.7 1049.1 370.2 1046.7 371.7 1043.3C373.3 1040.0 375.2 1034.4 376.8 1029.0C378.3 1023.6 379.1 1020.1 380.9 1011.1C382.8 1002.1 385.8 987.2 388.0 975.3C390.1 963.3 392.0 951.4 393.8 939.5C395.6 927.5 397.0 915.6 398.9 903.6C400.7 891.7 402.6 879.8 404.7 867.8C406.8 855.9 409.2 841.8 411.4 832.0C413.6 822.2 415.7 817.1 417.7 809.0C419.7 800.8 421.4 790.3 423.2 783.0C425.0 775.7 426.4 771.1 428.6 765.1C430.7 759.1 433.4 753.2 436.1 747.2C438.8 741.2 442.2 735.3 445.0 729.3C447.8 723.3 450.2 717.3 452.8 711.4C455.5 705.4 458.0 699.4 460.9 693.5C463.7 687.5 467.5 680.0 470.1 675.6C472.6 671.1 473.6 669.6 476.3 666.6C478.9 663.6 481.9 661.5 486.0 657.6C490.1 653.8 496.0 646.4 501.0 643.3C506.1 640.2 510.8 639.5 516.1 639.0C521.4 638.5 528.4 640.3 532.8 640.4C537.3 640.6 540.1 638.8 542.9 639.7C545.7 640.7 547.4 643.9 549.6 646.0C551.8 648.1 554.1 651.1 556.3 652.6C558.5 654.1 561.0 653.2 563.0 655.0C564.9 656.7 566.5 660.9 568.0 663.0C569.5 665.1 570.7 667.8 572.2 667.5C573.7 667.2 575.7 663.7 577.2 661.2C578.7 658.7 579.6 654.5 581.4 652.6C583.2 650.7 585.3 649.9 588.1 649.9C590.9 649.9 595.6 652.8 598.1 652.6C600.6 652.4 601.5 650.8 603.2 648.7C604.8 646.6 605.9 641.9 608.2 640.1C610.4 638.2 612.4 638.2 616.5 637.6C620.7 636.9 627.0 636.4 633.3 636.1C639.6 635.9 645.1 636.1 654.2 636.1C663.3 636.2 676.5 636.5 687.7 636.5C698.8 636.6 710.0 636.5 721.2 636.5C732.3 636.5 746.3 636.7 754.6 636.5C763.0 636.4 766.6 635.8 771.4 635.8C776.1 635.9 780.3 636.6 783.1 636.9C785.9 637.2 786.4 638.1 788.1 637.6C789.8 637.1 791.6 635.2 793.1 634.0C794.7 632.8 795.9 630.4 797.3 630.4C798.7 630.5 800.1 634.2 801.5 634.4C802.9 634.5 804.2 632.5 805.7 631.3C807.2 630.1 809.0 627.2 810.7 627.2C812.4 627.2 813.9 630.3 815.7 631.3C817.5 632.4 817.8 633.0 821.6 633.3C825.4 633.6 831.4 633.1 838.3 633.1C845.3 633.2 855.1 633.2 863.4 633.5C871.8 633.8 881.6 634.4 888.5 634.7C895.5 635.0 899.7 635.3 905.3 635.3C910.9 635.3 917.8 635.2 922.0 634.7C926.2 634.3 928.3 633.2 930.4 632.6C932.5 632.0 931.1 632.0 934.6 631.3C938.1 630.6 945.7 630.0 951.3 628.4C956.9 626.9 962.5 624.2 968.1 622.1C973.6 620.1 979.2 618.3 984.8 615.9C990.4 613.5 996.0 610.7 1001.5 607.8C1007.1 605.0 1012.7 601.2 1018.3 598.9C1023.9 596.6 1030.8 595.0 1035.0 594.0C1039.2 593.1 1040.9 593.5 1043.4 593.1C1045.9 592.8 1048.1 591.3 1050.1 591.9C1052.0 592.5 1053.4 594.4 1055.1 596.7C1056.8 599.0 1058.4 602.7 1060.1 605.7C1061.8 608.7 1063.6 610.7 1065.1 614.6C1066.7 618.5 1068.1 623.6 1069.3 629.0C1070.6 634.3 1071.7 640.9 1072.7 646.9C1073.7 652.8 1074.3 658.8 1075.2 664.8C1076.0 670.7 1076.9 677.0 1077.7 682.7C1078.5 688.4 1079.4 694.0 1080.2 698.8C1081.0 703.6 1081.7 707.7 1082.7 711.3C1083.8 715.0 1085.3 719.3 1086.6 720.7C1087.8 722.0 1089.1 721.3 1090.2 719.4C1091.4 717.6 1092.6 713.6 1093.6 709.6C1094.6 705.5 1095.1 700.3 1096.1 695.2C1097.1 690.1 1098.2 683.9 1099.5 679.1C1100.7 674.3 1101.8 669.9 1103.6 666.6C1105.5 663.3 1108.4 661.8 1110.3 659.4C1112.3 657.0 1113.7 654.9 1115.4 652.2C1117.0 649.6 1118.4 646.0 1120.4 643.3C1122.3 640.6 1125.0 637.8 1127.1 636.1C1129.2 634.5 1130.3 634.0 1132.9 633.4C1135.6 632.9 1140.5 631.6 1143.0 632.9C1145.5 634.2 1146.2 638.3 1148.0 641.5C1149.8 644.7 1151.8 649.3 1153.9 652.2C1155.9 655.2 1158.0 657.2 1160.6 659.4C1163.1 661.6 1166.4 663.4 1168.9 665.7C1171.4 667.9 1173.2 671.0 1175.6 672.8C1178.0 674.6 1180.6 676.6 1183.1 676.4C1185.7 676.3 1188.0 673.6 1190.7 671.9C1193.3 670.3 1196.3 668.4 1199.1 666.6C1201.8 664.8 1204.8 662.8 1207.4 661.2C1210.1 659.6 1211.3 658.0 1215.0 656.7C1218.6 655.4 1225.1 654.1 1229.2 653.2C1233.2 652.2 1235.9 651.6 1239.2 651.0C1242.6 650.5 1245.9 650.0 1249.3 650.0C1252.6 650.0 1256.2 650.6 1259.3 651.0C1262.4 651.5 1264.9 652.9 1267.7 652.8C1270.5 652.8 1273.3 651.7 1276.0 650.7C1278.8 649.6 1281.6 648.5 1284.4 646.6C1287.2 644.6 1290.0 640.4 1292.8 638.9C1295.6 637.4 1298.9 638.6 1301.2 637.6C1303.4 636.7 1304.6 634.5 1306.2 633.1C1307.7 631.7 1309.0 628.9 1310.4 629.2C1311.8 629.5 1313.3 633.7 1314.5 634.9C1315.8 636.1 1316.6 636.7 1317.9 636.4C1319.2 636.1 1321.0 635.5 1322.1 633.1C1323.2 630.8 1323.6 626.0 1324.6 622.4C1325.6 618.8 1326.5 615.5 1327.9 611.6C1329.3 607.8 1331.3 602.8 1333.0 599.1C1334.6 595.4 1336.3 592.2 1338.0 589.3C1339.7 586.3 1340.8 584.6 1343.0 581.2C1345.2 577.8 1348.6 573.0 1351.4 568.7C1354.2 564.3 1357.2 559.4 1359.7 555.2C1362.3 551.0 1364.4 546.6 1366.4 543.6C1368.5 540.6 1370.4 536.9 1372.1 537.1C1373.7 537.3 1375.2 541.1 1376.3 544.8C1377.4 548.4 1377.9 554.3 1378.8 559.1C1379.6 563.9 1380.2 569.9 1381.3 573.4C1382.4 577.0 1384.1 579.9 1385.5 580.2C1386.9 580.5 1388.4 578.1 1389.7 575.2C1390.9 572.3 1391.8 565.5 1393.0 562.7C1394.3 559.9 1395.7 558.1 1397.2 558.2C1398.7 558.4 1400.3 561.2 1402.2 563.6C1404.2 566.0 1406.7 570.1 1408.9 572.5C1411.1 574.9 1413.5 577.5 1415.6 577.9C1417.7 578.4 1419.8 575.9 1421.5 575.2C1423.1 574.5 1424.1 572.9 1425.7 573.8C1427.2 574.7 1429.3 577.7 1430.7 580.6C1432.1 583.5 1432.9 589.0 1434.0 591.3C1435.1 593.7 1436.0 594.9 1437.4 594.9C1438.8 594.9 1440.7 593.0 1442.4 591.3C1444.1 589.7 1445.7 586.4 1447.4 585.1C1449.1 583.8 1450.5 583.5 1452.4 583.6C1454.4 583.8 1457.3 585.3 1459.1 586.0C1460.9 586.7 1461.9 588.1 1463.3 587.8C1464.7 587.4 1466.0 583.5 1467.5 583.8C1469.0 584.1 1470.6 587.7 1472.5 589.6C1474.5 591.4 1477.0 592.5 1479.2 594.9C1481.4 597.3 1483.7 600.9 1485.9 603.9C1488.1 606.9 1490.4 610.0 1492.6 612.8C1494.8 615.7 1497.1 618.7 1499.3 620.9C1501.5 623.1 1503.7 626.1 1505.7 626.3C1507.6 626.4 1509.3 624.0 1511.0 621.8C1512.7 619.6 1514.4 616.4 1516.0 612.8C1517.7 609.3 1519.4 604.5 1521.1 600.3C1522.7 596.1 1524.1 592.2 1526.1 587.8C1528.0 583.3 1531.2 576.8 1532.8 573.4C1534.4 570.1 1535.1 568.6 1535.5 567.6"/>
</g></g>
<g fill="#000" stroke="none">
<polygon points="158,479.5 164,480 164,516 163,521 160,522.5 158,522.5"/>
<polygon points="214,586.2 227.1,586.2 218.6,611 217.9,611"/>
</g>
<line x1="221.7" y1="553" x2="220.4" y2="588" stroke="#000" stroke-width="2.7"/>
<g fill="#000">
<rect x="153" y="31" width="5" height="1040"/>
<rect x="153" y="31" width="1491" height="5"/>
<rect x="1639" y="31" width="5" height="1022"/>
<rect x="153" y="1049" width="1491" height="4"/>
<rect x="493" y="1049" width="5" height="22"/>
<rect x="833" y="1049" width="4" height="22"/>
<rect x="1172" y="1049" width="5" height="22"/>
<rect x="1512" y="1049" width="5" height="22"/>
<rect x="323" y="1049" width="5" height="13"/>
<rect x="663" y="1049" width="5" height="13"/>
<rect x="1003" y="1049" width="5" height="13"/>
<rect x="1342" y="1049" width="5" height="13"/>
</g>
<g>
<text transform="translate(95.78 1125.32) scale(1.0625 1.0000)" font-size="57.78" font-weight="bold">4000</text>
<text transform="translate(433.09 1125.32) scale(1.0862 1.0000)" font-size="57.78" font-weight="bold">3200</text>
<text transform="translate(773.31 1125.32) scale(1.0754 1.0000)" font-size="57.78" font-weight="bold">2400</text>
<text transform="translate(1113.64 1125.32) scale(1.0725 1.0000)" font-size="57.78" font-weight="bold">1600</text>
<text transform="translate(1468.60 1125.32) scale(1.0858 1.0000)" font-size="57.78" font-weight="bold">800</text>
<text transform="translate(562.61 1203.88) scale(1.0695 1.0000)" font-size="72.43" font-weight="bold">wavenumber/cm</text>
<text transform="translate(1112.52 1197.66) scale(0.8685 2.0055)" font-size="52.0" font-weight="bold">−</text>
<text transform="translate(1138.48 1180.10) scale(1.0444 1.0000)" font-size="51.76" font-weight="bold">1</text>
<text transform="translate(178.24 145.86) scale(1.0369 1.0000)" font-size="42.52" font-weight="bold">WBC</text>
<text transform="translate(163.98 293.24) scale(1.1796 1.0000)" font-size="33.06" font-weight="normal" stroke="#000" stroke-width="1.3" stroke-linejoin="round">WBC10</text>
<text transform="translate(175.78 467.04) scale(1.1855 1.0000)" font-size="33.01" font-weight="normal" stroke="#000" stroke-width="1.3" stroke-linejoin="round">WBC11</text>
<text transform="translate(165.69 644.04) scale(1.1933 1.0000)" font-size="33.01" font-weight="normal" stroke="#000" stroke-width="1.3" stroke-linejoin="round">WBC12</text>
<text transform="translate(87.09 789.11) rotate(-90) scale(1.0456 1)" font-size="70.86" font-weight="bold">Transmittance</text>
</g>
</svg>
</body>
</html>
